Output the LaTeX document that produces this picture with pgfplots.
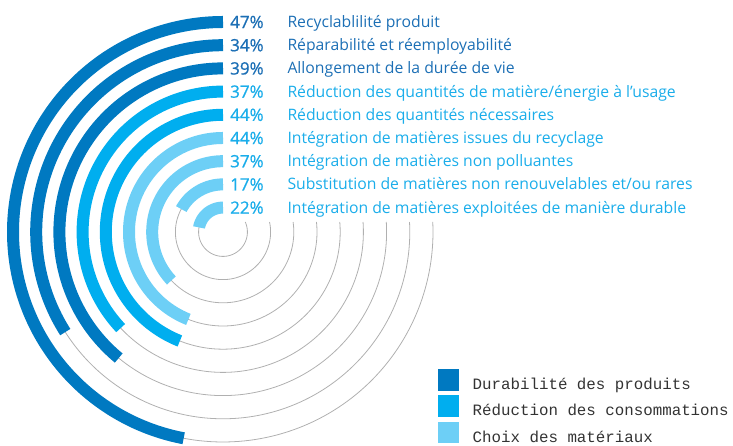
\documentclass[border=0pt]{standalone}
\usepackage{fontspec}
\setmainfont{Open Sans}
\newfontfamily\pctfamily[FakeBold=0.8]{Open Sans}
\newfontfamily\monofont{Liberation Mono}
\usepackage{pgfplots}
\pgfplotsset{compat=1.18}
\definecolor{cdark}{HTML}{0079C1}
\definecolor{cmed}{HTML}{00AEEF}
\definecolor{clight}{HTML}{6DCFF6}
\definecolor{tdark}{HTML}{1C6FB5}
\definecolor{tmed}{HTML}{1AADEA}
\definecolor{ring}{HTML}{B0B0B0}
\newcommand\pctfont{\pctfamily\fontsize{17}{20}\selectfont}
\newcommand\labfont{\fontsize{15.75}{18}\selectfont}
\begin{document}
\begin{tikzpicture}
\begin{axis}[
  scale only axis, width=733pt, height=446pt,
  xmin=-223, xmax=510, ymin=-214, ymax=232,
  hide axis, clip=false,
  legend style={at={(axis cs:214.3,-137)}, anchor=north west, draw=none, fill=none,
    inner sep=0pt, row sep=1.8pt, column sep=13.7pt,
    font=\monofont\fontsize{15.8}{18}\selectfont, text=black!80,
    nodes={inner sep=0pt, text height=12pt, text depth=4pt}},
  legend cell align=left,
  legend image code/.code={\fill[#1] (0pt,-5pt) rectangle (21.5pt,16.5pt);},
  every axis plot/.append style={data cs=polar, samples=180},
]
% grey tracks
\addplot[ring, line width=0.8pt, forget plot, domain=90:{360+asin(10/210)}] ({x},{210});
\addplot[ring, line width=0.8pt, forget plot, domain=90:{360+asin(10/186.8)}] ({x},{186.8});
\addplot[ring, line width=0.8pt, forget plot, domain=90:{360+asin(10/163.6)}] ({x},{163.6});
\addplot[ring, line width=0.8pt, forget plot, domain=90:{360+asin(10/140.4)}] ({x},{140.4});
\addplot[ring, line width=0.8pt, forget plot, domain=90:{360+asin(10/117.2)}] ({x},{117.2});
\addplot[ring, line width=0.8pt, forget plot, domain=90:{360+asin(10/94)}] ({x},{94});
\addplot[ring, line width=0.8pt, forget plot, domain=90:{360+asin(10/70.8)}] ({x},{70.8});
\addplot[ring, line width=0.8pt, forget plot, domain=90:{360+asin(10/47.6)}] ({x},{47.6});
\addplot[ring, line width=0.8pt, forget plot, domain=90:{360+asin(10/24.4)}] ({x},{24.4});
% bars: value in percent -> 3.6 degrees per percent
\addplot[cdark, line width=12pt, forget plot, domain=90:{90+3.6*47}] ({x},{210});
\addplot[cdark, line width=12pt, forget plot, domain=90:{90+3.6*34}] ({x},{186.8});
\addplot[cdark, line width=12pt, forget plot, domain=90:{90+3.6*39}] ({x},{163.6});
\addplot[cmed, line width=12pt, forget plot, domain=90:{90+3.6*37}] ({x},{140.4});
\addplot[cmed, line width=12pt, forget plot, domain=90:{90+3.6*44}] ({x},{117.2});
\addplot[clight, line width=12pt, forget plot, domain=90:{90+3.6*44}] ({x},{94});
\addplot[clight, line width=12pt, forget plot, domain=90:{90+3.6*37}] ({x},{70.8});
\addplot[clight, line width=12pt, forget plot, domain=90:{90+3.6*17}] ({x},{47.6});
\addplot[clight, line width=12pt, forget plot, domain=90:{90+3.6*22}] ({x},{24.4});
% labels
\begin{scope}[every node/.style={anchor=base west, inner sep=0pt}]
\node[text=tdark, font=\pctfont] at (axis cs:7,203.9) {47\%};
\node[text=tdark, font=\pctfont] at (axis cs:7,180.7) {34\%};
\node[text=tdark, font=\pctfont] at (axis cs:7,157.5) {39\%};
\node[text=tmed, font=\pctfont] at (axis cs:7,134.3) {37\%};
\node[text=tmed, font=\pctfont] at (axis cs:7,111.1) {44\%};
\node[text=tmed, font=\pctfont] at (axis cs:7,87.9) {44\%};
\node[text=tmed, font=\pctfont] at (axis cs:7,64.7) {37\%};
\node[text=tmed, font=\pctfont] at (axis cs:7,41.5) {17\%};
\node[text=tmed, font=\pctfont] at (axis cs:7,18.3) {22\%};
\node[text=tdark, font=\labfont] at (axis cs:64.3,204.4) {Recyclablilité produit};
\node[text=tdark, font=\labfont] at (axis cs:64.3,181.2) {Réparabilité et réemployabilité};
\node[text=tdark, font=\labfont] at (axis cs:64.3,158) {Allongement de la durée de vie};
\node[text=tmed, font=\labfont] at (axis cs:64.3,134.8) {Réduction des quantités de matière/énergie à l’usage};
\node[text=tmed, font=\labfont] at (axis cs:64.3,111.6) {Réduction des quantités nécessaires};
\node[text=tmed, font=\labfont] at (axis cs:64.3,88.4) {Intégration de matières issues du recyclage};
\node[text=tmed, font=\labfont] at (axis cs:64.3,65.2) {Intégration de matières non polluantes};
\node[text=tmed, font=\labfont] at (axis cs:64.3,42) {Substitution de matières non renouvelables et/ou rares};
\node[text=tmed, font=\labfont] at (axis cs:64.3,18.8) {Intégration de matières exploitées de manière durable};
\end{scope}
% legend
\addlegendimage{fill=cdark, draw=none}
\addlegendentry{Durabilité des produits}
\addlegendimage{fill=cmed, draw=none}
\addlegendentry{Réduction des consommations}
\addlegendimage{fill=clight, draw=none}
\addlegendentry{Choix des matériaux}
\end{axis}
\pgfresetboundingbox
\path[use as bounding box] (current axis.south west) rectangle (current axis.north east);
\end{tikzpicture}
\end{document}
